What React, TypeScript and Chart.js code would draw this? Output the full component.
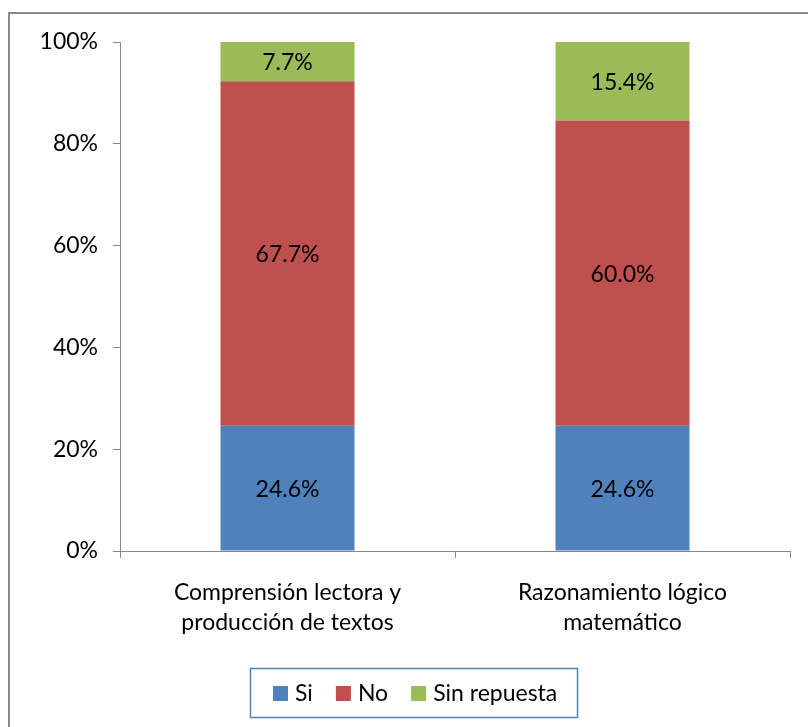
import React, { useEffect, useRef } from "react";
import { Chart, registerables } from "chart.js";

Chart.register(...registerables);

const categories: string[][] = [
  ["Comprensión lectora y", "producción de textos"],
  ["Razonamiento lógico", "matemático"],
];
const seriesNames = ["Si", "No", "Sin repuesta"];
const siValues = [24.6, 24.6];
const noValues = [67.7, 60.0];
const sinRespuestaValues = [7.7, 15.4];
const yTicks = [0, 20, 40, 60, 80, 100];
const seriesColors = ["#4F81BD", "#C0504D", "#9BBB59"];

const FONT = "Lato, 'Open Sans', sans-serif";
const AXIS_GRAY = "#868686";
const FS = 23;

const framePlugin = {
  id: "frame",
  beforeDraw(chart: any) {
    const { ctx, width, height } = chart;
    ctx.save();
    ctx.fillStyle = "#ffffff";
    ctx.fillRect(0, 0, width, height);
    ctx.strokeStyle = "#878787";
    ctx.lineWidth = 2;
    ctx.beginPath();
    ctx.moveTo(9, height + 2);
    ctx.lineTo(9, 13);
    ctx.lineTo(width + 2, 13);
    ctx.stroke();
    ctx.restore();
  },
};

const dataLabelPlugin = {
  id: "dataLabels",
  afterDatasetsDraw(chart: any) {
    const { ctx } = chart;
    ctx.save();
    ctx.font = `${FS}px ${FONT}`;
    ctx.fillStyle = "#000000";
    ctx.textAlign = "center";
    ctx.textBaseline = "middle";
    chart.data.datasets.forEach((ds: any, i: number) => {
      const meta = chart.getDatasetMeta(i);
      meta.data.forEach((el: any, j: number) => {
        const v = ds.data[j];
        const cy = (el.y + el.base) / 2 + 1;
        ctx.fillText(`${v.toFixed(1)}%`, el.x, cy);
      });
    });
    ctx.restore();
  },
};

const legendPlugin = {
  id: "customLegend",
  afterDraw(chart: any) {
    const { ctx } = chart;
    ctx.save();
    const boxX = 250, boxY = 668, boxW = 327, boxH = 49;
    ctx.strokeStyle = "#4F81BD";
    ctx.lineWidth = 1.5;
    ctx.strokeRect(boxX + 0.5, boxY + 0.5, boxW, boxH);
    ctx.font = `${FS}px ${FONT}`;
    ctx.textBaseline = "middle";
    ctx.textAlign = "left";
    let x = 273;
    const sq = 15;
    const cy = boxY + boxH / 2 + 1;
    chart.data.datasets.forEach((ds: any) => {
      ctx.fillStyle = ds.backgroundColor;
      ctx.fillRect(x, cy - sq / 2, sq, sq);
      ctx.fillStyle = "#000000";
      const tx = x + sq + 7;
      ctx.fillText(ds.label, tx, cy);
      x = tx + ctx.measureText(ds.label).width + 23;
    });
    ctx.restore();
  },
};

export default function App() {
  const ref = useRef<HTMLCanvasElement | null>(null);

  useEffect(() => {
    if (!ref.current) return;
    const valueSets = [siValues, noValues, sinRespuestaValues];
    const chart = new Chart(ref.current, {
      type: "bar",
      data: {
        labels: categories as any,
        datasets: seriesNames.map((name, i) => ({
          label: name,
          data: valueSets[i],
          backgroundColor: seriesColors[i],
          borderWidth: 0,
          barPercentage: 1,
          categoryPercentage: 0.4,
        })),
      },
      options: {
        responsive: false,
        animation: false,
        devicePixelRatio: 1,
        layout: { padding: { top: 42, right: 18, left: 0, bottom: 0 } },
        plugins: {
          legend: { display: false },
          tooltip: { enabled: false },
        },
        scales: {
          x: {
            stacked: true,
            offset: true,
            grid: {
              offset: true,
              drawOnChartArea: false,
              drawTicks: true,
              tickLength: 7,
              color: AXIS_GRAY,
            },
            border: { display: true, color: AXIS_GRAY, width: 1 },
            ticks: {
              color: "#000000",
              font: { family: FONT, size: FS, lineHeight: 1.28 },
              padding: 20,
              maxRotation: 0,
              autoSkip: false,
            },
            afterFit: (scale: any) => {
              scale.height = 176;
            },
          },
          y: {
            stacked: true,
            min: 0,
            max: 100,
            grid: {
              drawOnChartArea: false,
              drawTicks: true,
              tickLength: 7,
              color: AXIS_GRAY,
            },
            border: { display: true, color: AXIS_GRAY, width: 1 },
            ticks: {
              color: "#000000",
              font: { family: FONT, size: FS },
              padding: 15,
              callback: (v: any) => `${v}%`,
            },
            afterBuildTicks: (scale: any) => {
              scale.ticks = yTicks.map((v) => ({ value: v }));
            },
            afterFit: (scale: any) => {
              scale.width = 120;
            },
          },
        },
      },
      plugins: [framePlugin, dataLabelPlugin, legendPlugin],
    });
    return () => chart.destroy();
  }, []);

  return (
    <canvas
      ref={ref}
      width={808}
      height={727}
      style={{ position: "fixed", left: 0, top: 0, width: 808, height: 727 }}
    />
  );
}
